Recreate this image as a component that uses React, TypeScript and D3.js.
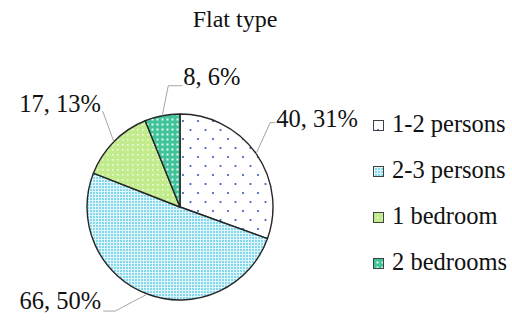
import * as d3 from "d3";
import { useEffect, useRef } from "react";

const categories = ["1-2 persons", "2-3 persons", "1 bedroom", "2 bedrooms"];
const counts = [40, 66, 17, 8];
const percents = ["31%", "50%", "13%", "6%"];

// label placement relative to the slice's outer mid point (Excel style leader lines)
const labelOffsets = [
  { elbow: [14, -31], end: [19, -31], text: [20, -27], anchor: "start" },
  { elbow: [-32, 17], end: [-44, 17], text: [-46, 15], anchor: "end" },
  { elbow: [-11, -30], end: [-12, -30], text: [-13, -30], anchor: "end" },
  { elbow: [6, -30], end: [20, -30], text: [21, -31], anchor: "start" },
];

const patternIds = ["pat-12", "pat-23", "pat-1b", "pat-2b"];

const App = () => {
  const ref = useRef<SVGSVGElement | null>(null);

  useEffect(() => {
    if (!ref.current) return;
    const svg = d3.select(ref.current);
    svg.selectAll("*").remove();

    const width = 512;
    const height = 320;
    const cx = 180;
    const cy = 207;
    const radius = 93;
    const font = "Liberation Serif";

    const defs = svg.append("defs");

    // 1-2 persons: white with sparse blue dots
    const p1 = defs
      .append("pattern")
      .attr("id", patternIds[0])
      .attr("patternUnits", "userSpaceOnUse")
      .attr("width", 15)
      .attr("height", 18);
    p1.append("rect").attr("width", 15).attr("height", 18).attr("fill", "#ffffff");
    p1.append("circle").attr("cx", 3).attr("cy", 4).attr("r", 1.1).attr("fill", "#3a5cc4");
    p1.append("circle").attr("cx", 10.5).attr("cy", 13).attr("r", 1.1).attr("fill", "#3a5cc4");

    // 2-3 persons: light blue fine grid
    const p2 = defs
      .append("pattern")
      .attr("id", patternIds[1])
      .attr("patternUnits", "userSpaceOnUse")
      .attr("width", 3)
      .attr("height", 3);
    p2.append("rect").attr("width", 3).attr("height", 3).attr("fill", "#e0f6fb");
    p2.append("rect").attr("width", 2).attr("height", 2).attr("fill", "#84d8ec");

    // 1 bedroom: light green with white dots
    const p3 = defs
      .append("pattern")
      .attr("id", patternIds[2])
      .attr("patternUnits", "userSpaceOnUse")
      .attr("width", 5)
      .attr("height", 5);
    p3.append("rect").attr("width", 5).attr("height", 5).attr("fill", "#c2eb8e");
    p3.append("rect").attr("x", 2).attr("y", 2).attr("width", 1.6).attr("height", 1.6).attr("fill", "#eefadf");

    // 2 bedrooms: teal with white dots
    const p4 = defs
      .append("pattern")
      .attr("id", patternIds[3])
      .attr("patternUnits", "userSpaceOnUse")
      .attr("width", 5)
      .attr("height", 5);
    p4.append("rect").attr("width", 5).attr("height", 5).attr("fill", "#40c39a");
    p4.append("rect").attr("x", 1.5).attr("y", 1.5).attr("width", 2).attr("height", 2).attr("fill", "#e8fbf3");

    svg.append("rect").attr("width", width).attr("height", height).attr("fill", "#ffffff");

    svg
      .append("text")
      .attr("x", 235)
      .attr("y", 27)
      .attr("text-anchor", "middle")
      .attr("font-family", font)
      .attr("font-size", 24)
      .attr("fill", "#111111")
      .text("Flat type");

    const pie = d3.pie<number>().value((d) => d).sort(null);
    const arcs = pie(counts);
    const arc = d3.arc<d3.PieArcDatum<number>>().innerRadius(0).outerRadius(radius);
    const edge = d3.arc<d3.PieArcDatum<number>>().innerRadius(radius).outerRadius(radius);

    const g = svg.append("g").attr("transform", `translate(${cx},${cy})`);

    g.selectAll("path.slice")
      .data(arcs)
      .enter()
      .append("path")
      .attr("class", "slice")
      .attr("d", arc)
      .attr("fill", (_d, i) => `url(#${patternIds[i]})`)
      .attr("stroke", "#262626")
      .attr("stroke-width", 1.4)
      .attr("stroke-linejoin", "round");

    // leader lines + labels
    arcs.forEach((a, i) => {
      const [ex, ey] = edge.centroid(a);
      const o = labelOffsets[i];
      const sx = cx + ex;
      const sy = cy + ey;
      svg
        .append("polyline")
        .attr(
          "points",
          [
            [sx, sy],
            [sx + o.elbow[0], sy + o.elbow[1]],
            [sx + o.end[0], sy + o.end[1]],
          ]
            .map((p) => p.join(","))
            .join(" ")
        )
        .attr("fill", "none")
        .attr("stroke", "#a6a6a6")
        .attr("stroke-width", 1);
      svg
        .append("text")
        .attr("x", sx + o.text[0])
        .attr("y", sy + o.text[1])
        .attr("text-anchor", o.anchor)
        .attr("font-family", font)
        .attr("font-size", 24.5)
        .attr("fill", "#111111")
        .text(`${counts[i]}, ${percents[i]}`);
    });

    // legend
    const ly = d3.scalePoint<string>().domain(categories).range([125, 263]);
    const leg = svg.append("g");
    categories.forEach((c, i) => {
      const y = ly(c) ?? 0;
      leg
        .append("rect")
        .attr("x", 373.5)
        .attr("y", y - 4.5)
        .attr("width", 10)
        .attr("height", 10)
        .attr("fill", `url(#${patternIds[i]})`)
        .attr("stroke", "#404040")
        .attr("stroke-width", 1);
      leg
        .append("text")
        .attr("x", 392)
        .attr("y", y + 7)
        .attr("font-family", font)
        .attr("font-size", 24.5)
        .attr("fill", "#111111")
        .text(c);
    });
  }, []);

  return (
    <svg
      ref={ref}
      width={512}
      height={320}
      style={{ position: "absolute", left: 0, top: 0, display: "block" }}
    />
  );
};

export default App;
